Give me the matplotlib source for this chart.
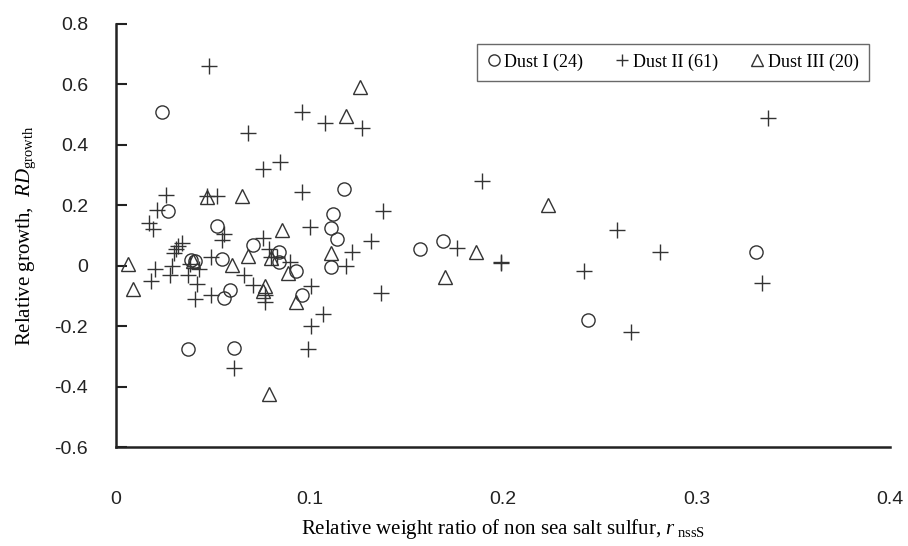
import matplotlib
matplotlib.use("Agg")
import matplotlib.pyplot as plt

plt.rcParams['font.family'] = ['Liberation Serif', 'DejaVu Serif']
plt.rcParams['mathtext.fontset'] = 'custom'
plt.rcParams['mathtext.rm'] = 'Liberation Serif'
plt.rcParams['mathtext.it'] = 'Liberation Serif:italic'

# Dust I (circles)
dust1_x = [0.024, 0.027, 0.052, 0.039, 0.041, 0.055, 0.059, 0.056, 0.037, 0.061,
           0.118, 0.112, 0.111, 0.114, 0.071, 0.084, 0.084, 0.093, 0.111, 0.096,
           0.157, 0.169, 0.331, 0.244]
dust1_y = [0.51, 0.18, 0.13, 0.02, 0.015, 0.023, -0.082, -0.106, -0.275, -0.272,
           0.255, 0.17, 0.125, 0.087, 0.067, 0.045, 0.013, -0.016, -0.005, -0.096,
           0.056, 0.082, 0.047, -0.18]

# Dust II (plus)
dust2_x = [0.048, 0.068, 0.096, 0.108, 0.127, 0.085, 0.076, 0.026, 0.047, 0.052,
           0.021, 0.017, 0.019, 0.056, 0.055, 0.034, 0.031, 0.030, 0.038, 0.049,
           0.020, 0.018, 0.029, 0.028, 0.037, 0.042, 0.043, 0.049, 0.041, 0.061,
           0.096, 0.100, 0.076, 0.079, 0.080, 0.083, 0.090, 0.122, 0.119, 0.066,
           0.071, 0.077, 0.077, 0.101, 0.107, 0.101, 0.099, 0.189, 0.138, 0.132,
           0.176, 0.199, 0.137, 0.259, 0.281, 0.242, 0.334, 0.266, 0.337, 0.199,
           0.032]
dust2_y = [0.66, 0.44, 0.51, 0.473, 0.457, 0.343, 0.32, 0.235, 0.232, 0.232,
           0.186, 0.142, 0.122, 0.106, 0.086, 0.076, 0.056, 0.043, 0.007, 0.03,
           -0.01, -0.05, 0.0, -0.03, -0.03, -0.06, -0.01, -0.096, -0.11, -0.34,
           0.244, 0.128, 0.092, 0.054, 0.03, 0.03, 0.013, 0.047, 0.0, -0.03,
           -0.063, -0.098, -0.12, -0.067, -0.16, -0.20, -0.275, 0.28, 0.18, 0.082,
           0.059, 0.009, -0.09, 0.118, 0.047, -0.018, -0.057, -0.22, 0.49, 0.012,
           0.065]

# Dust III (triangles)
dust3_x = [0.126, 0.119, 0.047, 0.065, 0.006, 0.060, 0.009, 0.086, 0.068, 0.080,
           0.089, 0.111, 0.077, 0.076, 0.093, 0.079, 0.223, 0.186, 0.170, 0.040]
dust3_y = [0.593, 0.497, 0.228, 0.23, 0.007, 0.003, -0.076, 0.118, 0.032, 0.025,
           -0.023, 0.042, -0.066, -0.085, -0.12, -0.424, 0.20, 0.045, -0.038, 0.015]

fig = plt.figure(figsize=(9.08, 5.46), dpi=100)
ax = fig.add_axes([116 / 908, 1 - 447 / 546, (890 - 116) / 908, (447 - 24) / 546])

mc = '#333333'
ax.plot(dust1_x, dust1_y, 'o', ls='none', mfc='none', mec=mc, mew=1.0, ms=9.5,
        label='Dust I (24)')
ax.plot(dust2_x, dust2_y, '+', ls='none', color=mc, mew=1.0, ms=11,
        label='Dust II (61)')
ax.plot(dust3_x, dust3_y, '^', ls='none', mfc='none', mec=mc, mew=1.0, ms=10,
        label='Dust III (20)')

ax.set_xlim(0, 0.4)
ax.set_ylim(-0.6, 0.8)
ax.set_xticks([0, 0.1, 0.2, 0.3, 0.4])
ax.set_xticklabels(['0', '0.1', '0.2', '0.3', '0.4'])
ax.set_yticks([-0.6, -0.4, -0.2, 0, 0.2, 0.4, 0.6, 0.8])
ax.set_yticklabels(['-0.6', '-0.4', '-0.2', '0', '0.2', '0.4', '0.6', '0.8'])

for side in ['top', 'right']:
    ax.spines[side].set_visible(False)
for side in ['left', 'bottom']:
    ax.spines[side].set_linewidth(1.8)
    ax.spines[side].set_color('#222222')

ax.tick_params(axis='y', direction='in', length=8, width=1.5, pad=20,
               labelsize=14, colors='#222222')
ax.tick_params(axis='x', length=0, pad=32, labelsize=14, colors='#222222')
for lab in ax.get_xticklabels() + ax.get_yticklabels():
    lab.set_family('Liberation Sans')

ax.set_xlabel(r'Relative weight ratio of non sea salt sulfur, $\mathit{r}_{\ \mathrm{nssS}}$',
              family='Liberation Serif', fontsize=15, labelpad=6)
ax.set_ylabel(r'Relative growth,  $\mathit{RD}_{\mathrm{growth}}$',
              family='Liberation Serif', fontsize=15, labelpad=12)

leg = ax.legend(loc='upper right', bbox_to_anchor=(0.984, 0.975), ncol=3,
                frameon=True, fancybox=False, handlelength=0.7, handletextpad=0.25,
                columnspacing=1.8, borderpad=0.55, markerscale=0.85,
                prop={'family': 'Liberation Serif', 'size': 13})
leg.get_frame().set_edgecolor('#444444')
leg.get_frame().set_linewidth(1.0)

fig.savefig('out.png', dpi=100)
